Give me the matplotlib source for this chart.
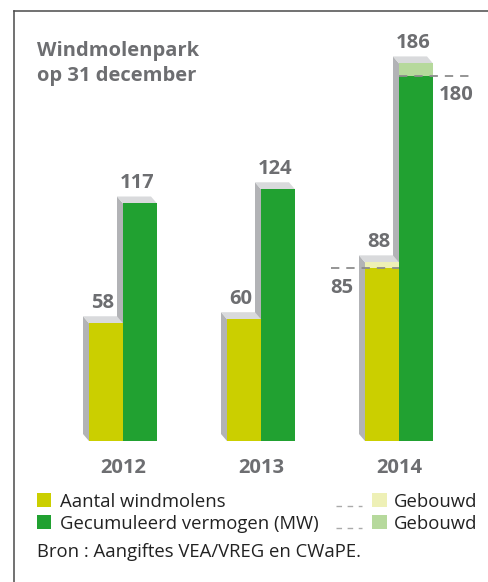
import matplotlib
matplotlib.use("Agg")
import matplotlib.pyplot as plt
from matplotlib.patches import Polygon, Rectangle
from matplotlib.lines import Line2D

plt.rcParams['font.family'] = ['Open Sans', 'DejaVu Sans']
plt.rcParams['lines.scale_dashes'] = False

# ---- data ----
years = ['2012', '2013', '2014']
windmolens = [58, 60, 85]            # Aantal windmolens
windmolens_gebouwd = [58, 60, 88]    # incl. gebouwd
vermogen = [117, 124, 180]           # Gecumuleerd vermogen (MW)
vermogen_gebouwd = [117, 124, 186]   # incl. gebouwd

title_lines = ['Windmolenpark', 'op 31 december']
legend_labels = ['Aantal windmolens', 'Gecumuleerd vermogen (MW)']
legend_built = ['Gebouwd', 'Gebouwd']
source = 'Bron : Aangiftes VEA/VREG en CWaPE.'

# ---- styles ----
YELLOW = '#cbcf00'
GREEN = '#21a131'
YELLOW_L = '#eef0b6'
GREEN_L = '#b6d99c'
TOP = '#d9dadc'
SIDE = '#b2b3b6'
TXT = '#6d6e71'
DASH = '#8c8c8c'

W, H = 488, 582
fig = plt.figure(figsize=(W / 100, H / 100), dpi=100)
fig.patch.set_facecolor('white')

def fx(px):
    return px / W

def fy(py):
    return 1 - py / H

# frame
fig.add_artist(Line2D([fx(14), fx(14)], [fy(11), fy(H)], color='#4a4a4a', lw=1.1))
fig.add_artist(Line2D([fx(14), fx(W)], [fy(11), fy(11)], color='#4a4a4a', lw=1.1))

# title
fig.text(fx(37), fy(56), title_lines[0], fontsize=14.5, fontweight='bold', color=TXT, va='baseline')
fig.text(fx(37), fy(81), title_lines[1], fontsize=14.5, fontweight='bold', color=TXT, va='baseline')

ax = fig.add_axes([fx(54), fy(441), 414 / W, (441 - 35) / H])
ax.set_xlim(-0.5, 2.5)
ax.set_ylim(0, 200)
ax.axis('off')

w = 34 / 138
dx = 6 / 138
dy = 7 / 2.03

def bar3d(x0, base_val, top_val, color, top_color=None, zorder=2):
    x1 = x0 + w
    # side
    ax.add_patch(Polygon([(x0, 0), (x0 - dx, dy), (x0 - dx, top_val + dy), (x0, top_val)],
                         closed=True, fc=SIDE, ec='none', zorder=zorder, clip_on=False))
    # top face
    ax.add_patch(Polygon([(x0, top_val), (x1, top_val), (x1 - dx, top_val + dy), (x0 - dx, top_val + dy)],
                         closed=True, fc=TOP, ec='none', zorder=zorder, clip_on=False))
    ax.bar(x0, base_val, width=w, align='edge', color=color, zorder=zorder + 0.1, clip_on=False)
    if top_val > base_val:
        ax.bar(x0, top_val - base_val, bottom=base_val, width=w, align='edge',
               color=top_color, zorder=zorder + 0.1, clip_on=False)
    return x0, x1

num_fs = 14.5
for i, yr in enumerate(years):
    # green first (behind), then yellow
    gx0, gx1 = bar3d(i, vermogen[i], vermogen_gebouwd[i], GREEN, GREEN_L, zorder=2)
    yx0, yx1 = bar3d(i - w, windmolens[i], windmolens_gebouwd[i], YELLOW, YELLOW_L, zorder=3)

    ax.text((yx0 + yx1) / 2 - dx / 2, windmolens_gebouwd[i] + dy + 4, str(windmolens_gebouwd[i]),
            ha='center', va='baseline', fontsize=num_fs, fontweight='bold', color=TXT)
    ax.text((gx0 + gx1) / 2 - dx / 2, vermogen_gebouwd[i] + dy + 4, str(vermogen_gebouwd[i]),
            ha='center', va='baseline', fontsize=num_fs, fontweight='bold', color=TXT)

    if windmolens_gebouwd[i] != windmolens[i]:
        ax.plot([yx0 - w, yx1], [windmolens[i]] * 2, color=DASH, lw=1.3,
                dashes=(6, 5), zorder=5, clip_on=False)
        ax.text(yx0 - 0.17, windmolens[i] - 12.2, str(windmolens[i]), ha='center', va='baseline',
                fontsize=num_fs, fontweight='bold', color=TXT)
    if vermogen_gebouwd[i] != vermogen[i]:
        ax.plot([gx0, gx1 + 1.15 * w], [vermogen[i]] * 2, color=DASH, lw=1.3,
                dashes=(6, 5), zorder=5, clip_on=False)
        ax.text(gx1 + 0.17, vermogen[i] - 12.2, str(vermogen[i]), ha='center', va='baseline',
                fontsize=num_fs, fontweight='bold', color=TXT)

    ax.text(i, -15.8, yr, ha='center', va='baseline', fontsize=num_fs,
            fontweight='bold', color=TXT, clip_on=False)

# legend
leg_fs = 13.3
rows = [(493, 507), (515, 529)]
for (t, b), lab, col in zip(rows, legend_labels, [YELLOW, GREEN]):
    fig.add_artist(Rectangle((fx(37), fy(b)), 14 / W, (b - t) / H, transform=fig.transFigure,
                             fc=col, ec='none'))
    fig.text(fx(60), fy(b), lab, fontsize=leg_fs, color='#222222', va='baseline')
for (t, b), lab, col in zip(rows, legend_built, [YELLOW_L, GREEN_L]):
    fig.add_artist(Line2D([fx(336), fx(362)], [fy(b - 1), fy(b - 1)], color='#aaaaaa', lw=1.0,
                          dashes=(4, 4)))
    fig.add_artist(Rectangle((fx(372), fy(b)), 15 / W, (b - t) / H, transform=fig.transFigure,
                             fc=col, ec='none'))
    fig.text(fx(394), fy(b), lab, fontsize=leg_fs, color='#222222', va='baseline')

fig.text(fx(37), fy(557), source, fontsize=leg_fs, color='#222222', va='baseline')

fig.savefig('out.png', dpi=100)
